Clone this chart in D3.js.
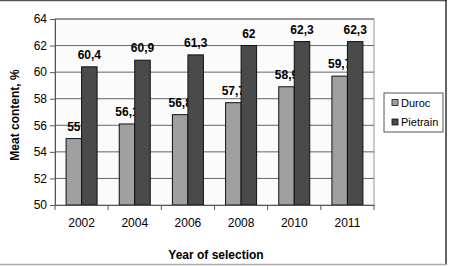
<!DOCTYPE html>
<meta charset="utf-8">
<style>
    body { margin: 0; background: #fff; }
    text { font-family: "Liberation Sans", Arial, sans-serif; fill: #000; }
</style>
<body>
<div id="chart"></div>
<script src="https://d3js.org/d3.v7.min.js"></script>
<script>

    var years = ["2002", "2004", "2006", "2008", "2010", "2011"],
        duroc = [55, 56.1, 56.8, 57.7, 58.9, 59.7],
        pietrain = [60.4, 60.9, 61.3, 62, 62.3, 62.3],
        yTicks = [50, 52, 54, 56, 58, 60, 62, 64];

    var series = [
        {name: "Duroc", values: duroc, color: "#a0a0a0"},
        {name: "Pietrain", values: pietrain, color: "#4a4a4a"}
    ];

    var svg_dx = 453, svg_dy = 266,
        margin = {top: 19, right: 79, bottom: 61, left: 55};

    var svg = d3.select("#chart").append("svg")
        .attr("width", svg_dx)
        .attr("height", svg_dy);

    // outer frame
    svg.append("line").attr("x1", 0).attr("x2", 447).attr("y1", 0.5).attr("y2", 0.5)
       .attr("stroke", "#555").attr("stroke-width", 1.5);
    svg.append("line").attr("x1", 446).attr("x2", 446).attr("y1", 0).attr("y2", 264)
       .attr("stroke", "#333").attr("stroke-width", 1.5);
    svg.append("line").attr("x1", 0).attr("x2", 447).attr("y1", 264.5).attr("y2", 264.5)
       .attr("stroke", "#aaa").attr("stroke-width", 1.5);

    var x = d3.scaleBand().domain(years).range([margin.left, svg_dx - margin.right]),
        y = d3.scaleLinear().domain([50, 64]).range([svg_dy - margin.bottom, margin.top]);

    var x1 = d3.scaleBand().domain(series.map(s => s.name))
        .range([0, x.bandwidth()]).paddingInner(0).paddingOuter(0.715);

    // plot background
    svg.append("rect")
       .attr("x", margin.left).attr("y", margin.top)
       .attr("width", x.range()[1] - margin.left)
       .attr("height", y(50) - margin.top)
       .attr("fill", "#fbfbfb")
       .attr("stroke", "#999");

    // grid
    svg.append("g").selectAll("line")
       .data(yTicks.slice(1))
       .enter().append("line")
       .attr("x1", margin.left).attr("x2", x.range()[1])
       .attr("y1", d => y(d)).attr("y2", d => y(d))
       .attr("stroke", "#666").attr("stroke-width", 1);

    // bars
    series.forEach(function (s) {
        svg.append("g").selectAll("rect")
           .data(s.values)
           .enter().append("rect")
           .attr("x", (d, i) => x(years[i]) + x1(s.name))
           .attr("y", d => y(d))
           .attr("width", x1.bandwidth())
           .attr("height", d => y(50) - y(d))
           .attr("fill", s.color)
           .attr("stroke", "#111")
           .attr("stroke-width", 1);

        svg.append("g").selectAll("text")
           .data(s.values)
           .enter().append("text")
           .attr("x", (d, i) => x(years[i]) + x1(s.name) + x1.bandwidth() / 2)
           .attr("y", d => y(d) - 8)
           .attr("text-anchor", "middle")
           .style("font-size", "12px")
           .style("font-weight", "bold")
           .text(d => String(d).replace(".", ","));
    });

    // axes
    var axis_y = d3.axisLeft(y).tickValues(yTicks).tickSize(5).tickPadding(3);
    var gy = svg.append("g")
       .attr("transform", "translate(" + margin.left + ",0)")
       .call(axis_y);
    gy.select(".domain").attr("stroke", "#555");
    gy.selectAll(".tick line").attr("stroke", "#555");
    gy.selectAll("text").style("font-size", "12px").style("font-family", "Liberation Sans, Arial, sans-serif");

    var axis_x = d3.axisBottom(x).tickSize(0).tickPadding(13);
    var gx = svg.append("g")
       .attr("transform", "translate(0," + y(50) + ")")
       .call(axis_x);
    gx.select(".domain").attr("stroke", "#555");
    gx.selectAll("text").style("font-size", "12px").style("font-family", "Liberation Sans, Arial, sans-serif");
    gx.append("g").selectAll("line")
      .data(years.concat([null]))
      .enter().append("line")
      .attr("x1", (d, i) => margin.left + i * x.step())
      .attr("x2", (d, i) => margin.left + i * x.step())
      .attr("y1", 0).attr("y2", 5)
      .attr("stroke", "#555");

    // axis titles
    svg.append("text")
       .attr("x", 216)
       .attr("y", 259)
       .attr("text-anchor", "middle")
       .style("font-size", "12px")
       .style("font-weight", "bold")
       .text("Year of selection");

    svg.append("text")
       .attr("transform", "translate(19,115) rotate(-90)")
       .attr("text-anchor", "middle")
       .style("font-size", "12px")
       .style("font-weight", "bold")
       .text("Meat content, %");

    // legend
    var legend = svg.append("g").attr("transform", "translate(384,93)");
    legend.append("rect").attr("x", 0).attr("y", 0).attr("width", 59).attr("height", 39)
          .attr("fill", "#fff").attr("stroke", "#555");
    var items = legend.selectAll(".item").data(series).enter().append("g")
          .attr("transform", (d, i) => "translate(8," + (9.5 + i * 19.5) + ")");
    items.append("rect").attr("x", 0).attr("y", -3).attr("width", 6).attr("height", 6)
         .attr("fill", d => d.color).attr("stroke", "#111").attr("stroke-width", 0.8);
    items.append("text").attr("x", 9).attr("y", 4)
         .style("font-size", "11px")
         .text(d => d.name);

</script>
</body>
